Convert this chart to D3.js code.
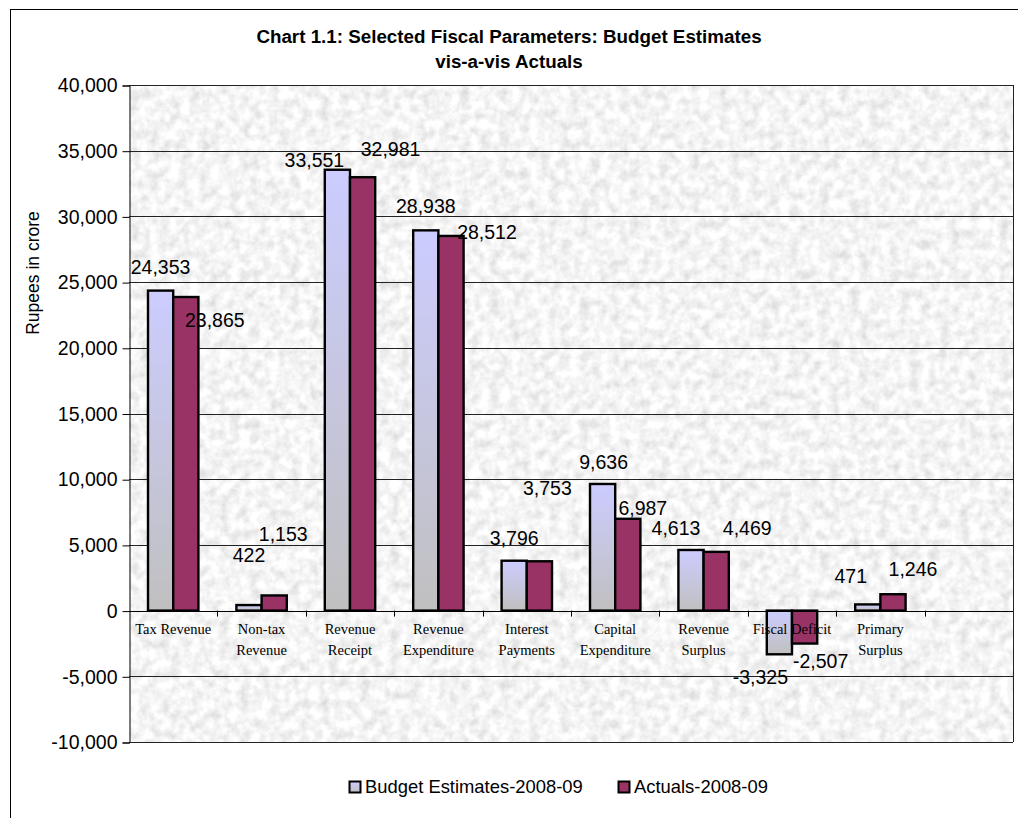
<!DOCTYPE html>
<html><head><meta charset="utf-8">
<script src="https://cdn.jsdelivr.net/npm/d3@7"></script>
<style>html,body{margin:0;padding:0;background:#fff;}svg{display:block;}</style>
</head><body>
<svg id="chart" width="1018" height="818"></svg>
<script>
// ---- data ----
const categories = ["Tax Revenue", "Non-tax\nRevenue", "Revenue\nReceipt", "Revenue\nExpenditure", "Interest\nPayments", "Capital\nExpenditure", "Revenue\nSurplus", "Fiscal Deficit", "Primary\nSurplus", ""];
const seriesNames = ["Budget Estimates-2008-09", "Actuals-2008-09"];
const budgetValues = [24353, 422, 33551, 28938, 3796, 9636, 4613, -3325, 471, null];
const actualValues = [23865, 1153, 32981, 28512, 3753, 6987, 4469, -2507, 1246, null];
const yTicks = [-10000, -5000, 0, 5000, 10000, 15000, 20000, 25000, 30000, 35000, 40000];
const titleLines = ["Chart 1.1: Selected Fiscal Parameters: Budget Estimates", "vis-a-vis Actuals"];
const yAxisTitle = "Rupees in crore";
// label nudges (px) relative to bar centre / bar end, as placed in the original
const budgetLabelNudge = [[0,-23],[0,-50],[-23,-10],[0,-24],[0,-23],[1,-22],[-15,-22],[-19,23],[-17,-28]];
const actualLabelNudge = [[29,23],[9,-61],[28,-28],[36,-4],[8,-73],[15,-11],[31,-24],[16,18],[20,-25]];

const svg = d3.select("#chart");
const plot = {left: 129, right: 1013, top: 85, bottom: 742};

const defs = svg.append("defs");
const grad = defs.append("linearGradient").attr("id","budgetGrad").attr("x1",0).attr("y1",0).attr("x2",0).attr("y2",1);
grad.append("stop").attr("offset","0%").attr("stop-color","#ccccff");
grad.append("stop").attr("offset","100%").attr("stop-color","#c0c0c0");
const filt = defs.append("filter").attr("id","granite").attr("x",0).attr("y",0).attr("width","100%").attr("height","100%");
filt.append("feTurbulence").attr("type","fractalNoise").attr("baseFrequency","0.1").attr("numOctaves",3).attr("seed",4).attr("result","n");
filt.append("feColorMatrix").attr("in","n").attr("type","matrix")
  .attr("values","0.5 0 0 0 0.66  0.5 0 0 0 0.66  0.5 0 0 0 0.66  0 0 0 0 1");

// frame
svg.append("rect").attr("x",10.5).attr("y",9.5).attr("width",1100).attr("height",900)
  .attr("fill","#fff").attr("stroke","#000").attr("stroke-width",1);

// plot background
svg.append("rect").attr("x",plot.left).attr("y",plot.top).attr("width",plot.right-plot.left).attr("height",plot.bottom-plot.top)
  .attr("fill","#e8e8e8");
svg.append("rect").attr("x",plot.left).attr("y",plot.top).attr("width",plot.right-plot.left).attr("height",plot.bottom-plot.top)
  .attr("filter","url(#granite)");

const y = d3.scaleLinear().domain([-10000, 40000]).range([plot.bottom, plot.top]);
const x = d3.scaleBand().domain(categories.map((c,i)=>i)).range([plot.left, plot.right]).paddingInner(0).paddingOuter(0);
const xs = d3.scaleBand().domain([0,1]).range([0, x.bandwidth()]).paddingInner(0).paddingOuter(0.754);

// gridlines
svg.append("g").selectAll("line").data(yTicks).join("line")
  .attr("x1",plot.left).attr("x2",plot.right)
  .attr("y1",d=>Math.round(y(d))+0.5).attr("y2",d=>Math.round(y(d))+0.5)
  .attr("stroke","#222").attr("stroke-width",1);
svg.append("line").attr("x1",plot.right+0.5).attr("x2",plot.right+0.5).attr("y1",plot.top).attr("y2",plot.bottom)
  .attr("stroke","#222");

// y axis
const yAxis = d3.axisLeft(y).tickValues(yTicks).tickSize(7).tickPadding(5).tickFormat(d3.format(","));
const gy = svg.append("g").attr("transform",`translate(${plot.left+0.5},0.5)`).call(yAxis);
gy.select(".domain").attr("stroke","#000");
gy.selectAll(".tick line").attr("stroke","#000");
gy.selectAll("text").attr("font-family","Arial, 'Liberation Sans', sans-serif").attr("font-size","19.5px").attr("fill","#000")
  .text(d=>d3.format(",")(d).replace("−","-"));

// bars
const series = [
  {name: seriesNames[0], values: budgetValues, fill: "url(#budgetGrad)", nudge: budgetLabelNudge},
  {name: seriesNames[1], values: actualValues, fill: "#993366", nudge: actualLabelNudge}
];
const barsG = svg.append("g");
series.forEach((s,si)=>{
  const pts = s.values.map((v,i)=>({v,i})).filter(d=>d.v!==null);
  barsG.selectAll(null).data(pts).join("rect")
    .attr("x",d=>x(d.i)+xs(si))
    .attr("width",xs.bandwidth())
    .attr("y",d=>y(Math.max(0,d.v)))
    .attr("height",d=>Math.abs(y(d.v)-y(0)))
    .attr("fill",s.fill).attr("stroke","#000").attr("stroke-width",2.4);
});

// zero axis line and category ticks
svg.append("line").attr("x1",plot.left).attr("x2",plot.right).attr("y1",Math.round(y(0))+0.5).attr("y2",Math.round(y(0))+0.5)
  .attr("stroke","#000");
svg.append("g").selectAll("line").data(categories.map((c,i)=>i).slice(1)).join("line")
  .attr("x1",d=>Math.round(x(d))+0.5).attr("x2",d=>Math.round(x(d))+0.5)
  .attr("y1",y(0)).attr("y2",y(0)+6).attr("stroke","#000");

// category labels (drawn over bars, as in the original)
const catG = svg.append("g").attr("font-family","'Liberation Serif','Times New Roman',serif").attr("font-size","14.5px").attr("text-anchor","middle");
categories.forEach((c,i)=>{
  const lines = c.split("\n");
  const t = catG.append("text").attr("x",x(i)+x.bandwidth()/2).attr("y",y(0)+23);
  lines.forEach((ln,li)=>t.append("tspan").attr("x",x(i)+x.bandwidth()/2).attr("dy",li===0?0:21).text(ln));
});

// data labels
const lblG = svg.append("g").attr("font-family","Arial, 'Liberation Sans', sans-serif").attr("font-size","19.5px").attr("text-anchor","middle");
series.forEach((s,si)=>{
  const pts = s.values.map((v,i)=>({v,i})).filter(d=>d.v!==null);
  lblG.selectAll(null).data(pts).join("text")
    .attr("x",d=>x(d.i)+xs(si)+xs.bandwidth()/2+s.nudge[d.i][0])
    .attr("y",d=>y(d.v)+s.nudge[d.i][1])
    .attr("dy","0.35em")
    .text(d=>d3.format(",")(d.v).replace("−","-"));
});

// title
const tG = svg.append("g").attr("font-family","Arial, 'Liberation Sans', sans-serif").attr("font-size","18.8px").attr("font-weight","bold").attr("text-anchor","middle");
titleLines.forEach((t,i)=>tG.append("text").attr("x",509).attr("y",43+i*25).text(t));

// y axis title
svg.append("text").attr("transform",`translate(39,273) rotate(-90)`).attr("text-anchor","middle")
  .attr("font-family","Arial, 'Liberation Sans', sans-serif").attr("font-size","17.5px").text(yAxisTitle);

// legend
const legG = svg.append("g").attr("font-family","Arial, 'Liberation Sans', sans-serif").attr("font-size","18.4px");
const legX = [349, 618];
series.forEach((s,si)=>{
  legG.append("rect").attr("x",legX[si]+0.5).attr("y",781.5).attr("width",11).attr("height",11)
    .attr("fill",s.fill).attr("stroke","#000").attr("stroke-width",2);
  legG.append("text").attr("x",legX[si]+16).attr("y",793).text(s.name);
});
</script>
</body></html>
